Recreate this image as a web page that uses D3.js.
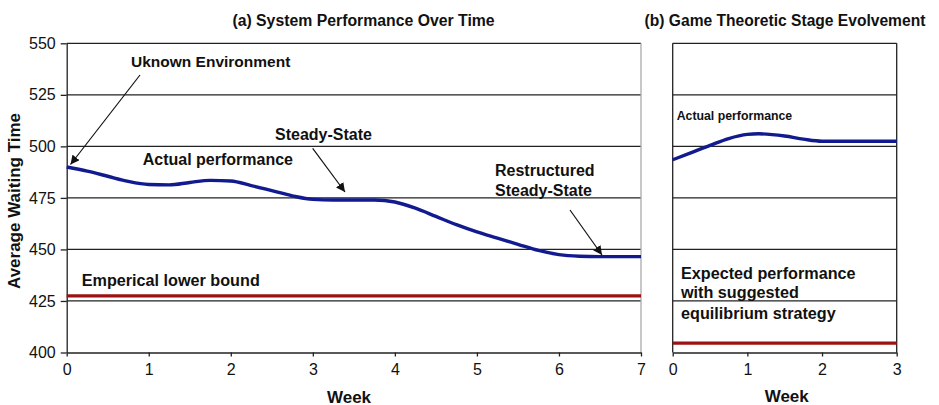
<!DOCTYPE html>
<meta charset="utf-8">
<title>System Performance</title>
<style>
body { margin: 0; background: #fff; }
text { font-family: "Liberation Sans", Arial, sans-serif; fill: #111; }
.grid line { stroke: #222; stroke-width: 1.3; }
.axis path, .axis line { stroke: #222; stroke-width: 1.3; }
.axis text { font-size: 16px; fill: #111; font-family: "Liberation Sans", Arial, sans-serif; }
.lbl { font-weight: bold; }
</style>
<body>
<svg width="939" height="405"></svg>
<script src="https://d3js.org/d3.v7.min.js"></script>
<script>

// panel (a)
var weeksA = [0, 0.25, 0.5, 0.75, 1, 1.25, 1.5, 1.75, 2, 2.25, 2.5, 2.75, 3, 3.25, 3.5, 3.75, 4, 4.25, 4.5, 4.75, 5, 5.25, 5.5, 5.75, 6, 6.25, 6.5, 7];
var actualA = [490, 488, 485.5, 483, 481.5, 481.3, 482.5, 483.5, 483.2, 481, 478.5, 476, 474.3, 474, 474, 474, 473, 470, 466, 462, 458.5, 455.5, 452.5, 449.5, 447.5, 446.7, 446.5, 446.5];
var lowerBoundA = 427.5;

// panel (b)
var weeksB = [0, 0.25, 0.5, 0.75, 1, 1.15, 1.5, 1.75, 2, 2.5, 3];
var actualB = [493.5, 497, 500.5, 503.8, 505.8, 506.1, 505, 503.5, 502.5, 502.5, 502.5];
var expectedB = 404.5;

var yTicks = [400, 425, 450, 475, 500, 525, 550];
var xTicksA = [0, 1, 2, 3, 4, 5, 6, 7];
var xTicksB = [0, 1, 2, 3];

var svg = d3.select("svg");
var plotTop = 43.3, plotBottom = 352.5;

var y = d3.scaleLinear().domain([400, 550]).range([plotBottom, plotTop]);
var xA = d3.scaleLinear().domain([0, 7]).range([66.7, 641]);
var xB = d3.scaleLinear().domain([0, 3]).range([672.7, 896.7]);

function panel(x, ticks, rightColor, boxed) {
  var g = svg.append("g");
  g.append("g").attr("class", "grid")
    .selectAll("line").data(yTicks.slice(1)).enter().append("line")
      .attr("x1", x.range()[0]).attr("x2", x.range()[1])
      .attr("y1", function(d) { return y(d); })
      .attr("y2", function(d) { return y(d); });
  g.append("line")
    .attr("x1", x.range()[1]).attr("x2", x.range()[1])
    .attr("y1", plotTop).attr("y2", plotBottom)
    .attr("stroke", rightColor).attr("stroke-width", 1.3);
  g.append("g").attr("class", "axis")
    .attr("transform", "translate(0," + plotBottom + ")")
    .call(d3.axisBottom(x).tickValues(ticks).tickFormat(d3.format("d")).tickSize(4).tickSizeOuter(0).tickPadding(7));
  if (boxed) {
    g.append("line")
      .attr("x1", x.range()[0]).attr("x2", x.range()[0])
      .attr("y1", plotTop).attr("y2", plotBottom)
      .attr("stroke", "#222").attr("stroke-width", 1.3);
  }
  return g;
}

panel(xA, xTicksA, "#aaa", false);
panel(xB, xTicksB, "#222", true);

svg.append("g").attr("class", "axis")
  .attr("transform", "translate(66.7,0)")
  .call(d3.axisLeft(y).tickValues(yTicks).tickSize(6).tickSizeOuter(0).tickPadding(5));

svg.selectAll(".axis .domain").attr("stroke", "#222");

// lines
var lineA = d3.line()
  .x(function(d, i) { return xA(weeksA[i]); })
  .y(function(d) { return y(d); })
  .curve(d3.curveMonotoneX);
var lineB = d3.line()
  .x(function(d, i) { return xB(weeksB[i]); })
  .y(function(d) { return y(d); })
  .curve(d3.curveMonotoneX);

svg.append("line")
  .attr("x1", xA(0)).attr("x2", xA(7))
  .attr("y1", y(lowerBoundA)).attr("y2", y(lowerBoundA))
  .attr("stroke", "#9b1212").attr("stroke-width", 3.2);
svg.append("line")
  .attr("x1", xB(0)).attr("x2", xB(3))
  .attr("y1", y(expectedB)).attr("y2", y(expectedB))
  .attr("stroke", "#9b1212").attr("stroke-width", 3.2);

svg.append("path").datum(actualA)
  .attr("d", lineA).attr("fill", "none")
  .attr("stroke", "#121a8f").attr("stroke-width", 3.4);
svg.append("path").datum(actualB)
  .attr("d", lineB).attr("fill", "none")
  .attr("stroke", "#121a8f").attr("stroke-width", 3.4);

// arrows
svg.append("defs").append("marker")
  .attr("id", "arr").attr("viewBox", "0 0 10 10")
  .attr("refX", 10).attr("refY", 5)
  .attr("markerWidth", 9).attr("markerHeight", 9)
  .attr("markerUnits", "userSpaceOnUse")
  .attr("orient", "auto")
  .append("path").attr("d", "M0,0L10,5L0,10z").attr("fill", "#111");

var arrows = [
  [140, 75, 70.5, 164.5],
  [312.7, 148.3, 345, 192],
  [570, 210, 602, 255]
];
svg.selectAll(".arrow").data(arrows).enter().append("line")
  .attr("x1", function(d) { return d[0]; }).attr("y1", function(d) { return d[1]; })
  .attr("x2", function(d) { return d[2]; }).attr("y2", function(d) { return d[3]; })
  .attr("stroke", "#111").attr("stroke-width", 1.2)
  .attr("marker-end", "url(#arr)");

// text
function label(txt, x, yy, size, anchor) {
  svg.append("text").attr("class", "lbl")
    .attr("x", x).attr("y", yy)
    .attr("font-size", size + "px")
    .attr("text-anchor", anchor || "start")
    .attr("dominant-baseline", "central")
    .text(txt);
}

label("(a) System Performance Over Time", 363.5, 20.5, 15.8, "middle");
label("(b) Game Theoretic Stage Evolvement", 785, 20.5, 15.6, "middle");
label("Uknown Environment", 131, 61.7, 15.5);
label("Actual performance", 142.7, 159.3, 16);
label("Steady-State", 275, 134, 16);
label("Restructured", 495, 170, 16);
label("Steady-State", 495, 190, 16);
label("Emperical lower bound", 81.7, 280, 16.2);
label("Actual performance", 676.7, 116, 12.3);
label("Expected performance", 681, 272.7, 16.2);
label("with suggested", 681, 292.3, 16.2);
label("equilibrium strategy", 681, 313.3, 16.2);
label("Week", 349, 397, 17, "middle");
label("Week", 786.7, 396.7, 17, "middle");

svg.append("text").attr("class", "lbl")
  .attr("transform", "translate(14,201) rotate(-90)")
  .attr("text-anchor", "middle")
  .attr("dominant-baseline", "central")
  .attr("font-size", "17px")
  .text("Average Waiting Time");

</script>
</body>
